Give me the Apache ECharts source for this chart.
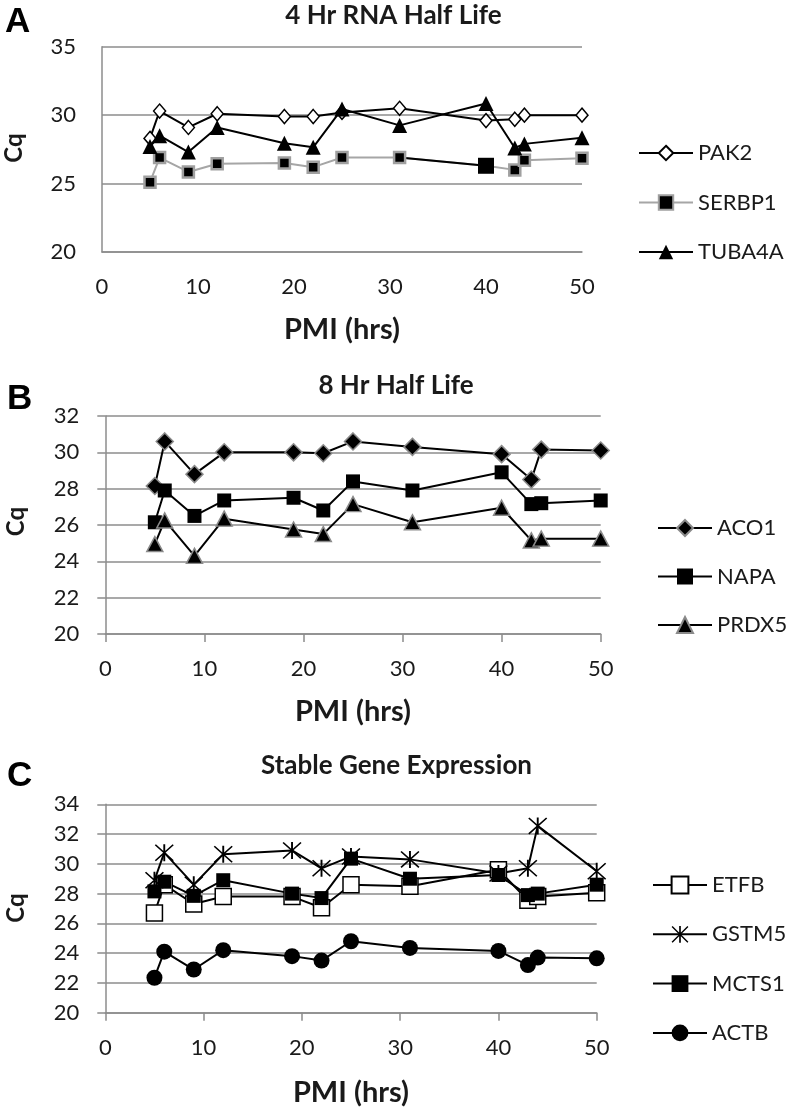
<!DOCTYPE html>
<html>
<head>
<meta charset="utf-8">
<script src="https://cdn.jsdelivr.net/npm/echarts@6/dist/echarts.min.js"></script>
<style>
html,body{margin:0;padding:0;background:#fff;}
#chart{width:792px;height:1110px;}
</style>
</head>
<body>
<div id="chart"></div>
<script>
// ---------- data ----------
const pmi = [5, 6, 9, 12, 19, 22, 25, 31, 40, 43, 44, 50];

// Panel A: 4 Hr RNA Half Life
const pak2   = [28.3, 30.3, 29.1, 30.1, 29.9, 29.9, 30.2, 30.5, 29.6, 29.7, 30.0, 30.0];
const serbp1 = [25.1, 26.9, 25.85, 26.45, 26.5, 26.2, 26.9, 26.9, 26.3, 26.0, 26.7, 26.85];
const tuba4a = [27.7, 28.5, 27.3, 29.1, 27.95, 27.65, 30.45, 29.25, 30.85, 27.6, 27.9, 28.35];

// Panel B: 8 Hr Half Life
const aco1  = [28.15, 30.6, 28.8, 30.0, 30.0, 29.95, 30.6, 30.3, 29.9, 28.5, 30.15, 30.1];
const napa  = [26.15, 27.9, 26.5, 27.35, 27.5, 26.8, 28.4, 27.9, 28.9, 27.15, 27.2, 27.35];
const prdx5 = [24.95, 26.25, 24.3, 26.35, 25.75, 25.5, 27.15, 26.15, 26.95, 25.15, 25.25, 25.25];

// Panel C: Stable Gene Expression
const etfb  = [26.7, 28.6, 27.3, 27.8, 27.8, 27.05, 28.6, 28.5, 29.6, 27.55, 27.8, 28.05];
const gstm5 = [28.9, 30.75, 28.6, 30.65, 30.9, 29.7, 30.5, 30.3, 29.35, 29.7, 32.55, 29.5];
const mcts1 = [28.15, 28.8, 27.85, 28.9, 28.0, 27.7, 30.35, 29.0, 29.25, 27.9, 28.0, 28.6];
const actb  = [22.35, 24.1, 22.9, 24.2, 23.8, 23.5, 24.8, 24.35, 24.15, 23.2, 23.7, 23.65];

// tick settings
const xTicks = {min: 0, max: 50, interval: 10};
const yTicksA = {min: 20, max: 35, interval: 5};
const yTicksB = {min: 20, max: 32, interval: 2};
const yTicksC = {min: 20, max: 34, interval: 2};

// ---------- styling ----------
const FONT = 'Lato';
const GRIDC = '#8c8c8c';
const TXT = '#1a1a1a';
const ASTERISK = 'path://M9,0L11,0L11,20L9,20Z M0,1.2L1.2,0L20,18.8L18.8,20Z M18.8,0L20,1.2L1.2,20L0,18.8Z';

function pts(ys) { return pmi.map((x, i) => [x, ys[i]]); }

function xAxis(gridIndex, ticks) {
  return {
    type: 'value', gridIndex, min: xTicks.min, max: xTicks.max, interval: xTicks.interval,
    axisLine: {show: true, lineStyle: {color: GRIDC, width: 1.5}},
    axisTick: {show: ticks, length: 8, lineStyle: {color: GRIDC, width: 1.5}},
    splitLine: {show: false},
    axisLabel: {fontFamily: FONT, fontSize: 22, color: TXT, margin: 24, showMinLabel: true, showMaxLabel: true}
  };
}
function yAxis(gridIndex, t, ticks) {
  return {
    type: 'value', gridIndex, min: t.min, max: t.max, interval: t.interval,
    axisLine: {show: true, lineStyle: {color: GRIDC, width: 1.5}},
    axisTick: {show: ticks, length: 8, lineStyle: {color: GRIDC, width: 1.5}},
    splitLine: {show: true, lineStyle: {color: GRIDC, width: 1.5}},
    axisLabel: {fontFamily: FONT, fontSize: 22, color: TXT, margin: 26, showMinLabel: true, showMaxLabel: true}
  };
}
function line(name, ys, idx, symbol, size, itemStyle, lineColor, extra) {
  return Object.assign({
    name, type: 'line', xAxisIndex: idx, yAxisIndex: idx, data: pts(ys),
    symbol, symbolSize: size, showSymbol: true, showAllSymbol: true,
    itemStyle, lineStyle: {color: lineColor, width: 2},
    emphasis: {disabled: true}, animation: false, z: 3
  }, extra || {});
}

const serbp1Data = pts(serbp1).map((p, i) => pmi[i] === 40
  ? {value: p, symbolSize: 16, itemStyle: {color: '#000', borderColor: '#000', borderWidth: 0}}
  : p);

const legendText = {fontFamily: FONT, fontSize: 22, color: TXT, lineHeight: 24};

function txt(text, x, y, font, extra) {
  return Object.assign({
    type: 'text', x, y, silent: true,
    style: {text, font, fill: TXT, align: 'center', verticalAlign: 'middle'}
  }, extra || {});
}
function letter(text, x, y) {
  return {type: 'text', x, y, silent: true,
    style: {text, font: 'bold 35px "Liberation Sans"', fill: '#000', align: 'left', verticalAlign: 'middle'}};
}

const option = {
  backgroundColor: '#fff',
  animation: false,
  grid: [
    {left: 102, top: 46.7, width: 480, height: 205.3, containLabel: false, outerBoundsMode: 'none'},
    {left: 105.3, top: 416, width: 495.4, height: 218, containLabel: false, outerBoundsMode: 'none'},
    {left: 105.3, top: 804.3, width: 491.4, height: 208.4, containLabel: false, outerBoundsMode: 'none'}
  ],
  xAxis: [xAxis(0, false), xAxis(1, true), xAxis(2, true)],
  yAxis: [yAxis(0, yTicksA, false), yAxis(1, yTicksB, true), yAxis(2, yTicksC, true)],
  legend: [
    {data: ['PAK2', 'SERBP1', 'TUBA4A'], orient: 'vertical', left: 638, top: 141, padding: 0,
     itemWidth: 54, itemHeight: 18, itemGap: 25.5, textStyle: legendText, selectedMode: false},
    {data: ['ACO1', 'NAPA', 'PRDX5'], orient: 'vertical', left: 657, top: 516, padding: 0,
     itemWidth: 54, itemHeight: 20, itemGap: 24.5, textStyle: legendText, selectedMode: false},
    {data: ['ETFB', 'GSTM5', 'MCTS1', 'ACTB'], orient: 'vertical', left: 652, top: 873, padding: 0,
     itemWidth: 54, itemHeight: 21, itemGap: 25.3, textStyle: legendText, selectedMode: false}
  ],
  series: [
    line('PAK2', pak2, 0, 'diamond', [12, 14], {color: '#fff', borderColor: '#000', borderWidth: 1.5}, '#000'),
    line('SERBP1', serbp1, 0, 'rect', 11, {color: '#000', borderColor: '#a0a0a0', borderWidth: 2.5}, '#a6a6a6',
         {data: serbp1Data}),
    {name: 'SERBP1 segment', type: 'line', xAxisIndex: 0, yAxisIndex: 0,
     data: pts(serbp1).filter((p, i) => pmi[i] === 31 || pmi[i] === 40),
     symbol: 'none', lineStyle: {color: '#000', width: 2}, z: 3, emphasis: {disabled: true}, animation: false},
    line('TUBA4A', tuba4a, 0, 'triangle', 15, {color: '#000'}, '#000'),

    line('ACO1', aco1, 1, 'diamond', 17, {color: '#000', borderColor: '#8a8a8a', borderWidth: 1.5}, '#000'),
    line('NAPA', napa, 1, 'rect', 14, {color: '#000'}, '#000'),
    line('PRDX5', prdx5, 1, 'triangle', [16, 15], {color: '#000', borderColor: '#8a8a8a', borderWidth: 1.5}, '#000'),

    line('ETFB', etfb, 2, 'rect', 16, {color: '#fff', borderColor: '#000', borderWidth: 1.5}, '#000'),
    line('GSTM5', gstm5, 2, ASTERISK, [19, 17], {color: '#000'}, '#000'),
    line('MCTS1', mcts1, 2, 'rect', 14, {color: '#000'}, '#000'),
    line('ACTB', actb, 2, 'circle', 16, {color: '#000'}, '#000')
  ],
  graphic: [
    letter('A', 5, 22.2),
    letter('B', 7, 399.7),
    letter('C', 7, 776.7),

    txt('4 Hr RNA Half Life', 393.5, 16, 'bold 26px Lato'),
    txt('8 Hr Half Life', 396, 386, 'bold 26px Lato'),
    txt('Stable Gene Expression', 396.5, 766, 'bold 26px Lato'),

    txt('PMI (hrs)', 342, 329.5, 'bold 29px Lato'),
    txt('PMI (hrs)', 353, 712, 'bold 29px Lato'),
    txt('PMI (hrs)', 351, 1093, 'bold 29px Lato'),

    txt('Cq', 14, 148, 'bold 24px Lato', {rotation: Math.PI / 2}),
    txt('Cq', 16, 521.5, 'bold 24px Lato', {rotation: Math.PI / 2}),
    txt('Cq', 16, 908, 'bold 24px Lato', {rotation: Math.PI / 2})
  ]
};

const chart = echarts.init(document.getElementById('chart'), null, {renderer: 'canvas'});
chart.setOption(option);
</script>
</body>
</html>
